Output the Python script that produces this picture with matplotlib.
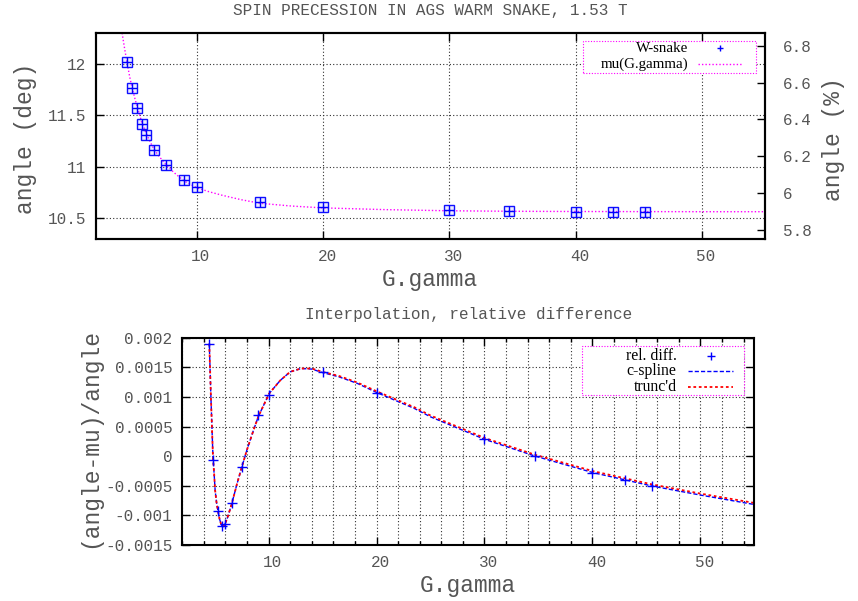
import matplotlib
matplotlib.use("Agg")
import matplotlib.pyplot as plt
import matplotlib.transforms as mtransforms
from matplotlib.ticker import MultipleLocator
from matplotlib.lines import Line2D
from matplotlib.patches import Rectangle

# measured W-snake points
gg = [4.5, 4.88, 5.3, 5.65, 6.0, 6.63, 7.55, 9.0, 10.0, 15.0, 20.0, 30.0, 34.7, 40.0, 43.0, 45.5]
angle_deg = [12.02, 11.768, 11.567, 11.419, 11.313, 11.161, 11.022, 10.870, 10.809,
             10.662, 10.613, 10.577, 10.570, 10.566, 10.565, 10.562]
rel_diff = [0.0019, -0.00007, -0.00092, -0.00118, -0.00114, -0.00079, -0.00018, 0.000687,
            0.00104, 0.001424, 0.00106, 0.000282, 0.0, -0.000282, -0.000405, -0.000507]

# mu(G.gamma) curve
mu_x = [4.09, 4.3, 4.5, 4.7, 4.88, 5.1, 5.3, 5.65, 6.0, 6.3, 6.63, 7.0, 7.55, 8.2, 9.0, 10.0,
        11.0, 12.0, 13.5, 15.0, 17.5, 20.0, 25.0, 30.0, 35.0, 40.0, 45.0, 50.0, 55.0]
mu_y = [12.30, 12.14, 12.00, 11.87, 11.77, 11.665, 11.578, 11.432, 11.326, 11.245, 11.170,
        11.105, 11.024, 10.945, 10.863, 10.798, 10.758, 10.725, 10.682, 10.647, 10.620,
        10.602, 10.585, 10.574, 10.569, 10.567, 10.566, 10.565, 10.565]

# interpolation curves of the relative difference
cs_x = [4.5, 4.66, 4.84, 4.95, 5.04, 5.17, 5.29, 5.45, 5.6, 5.72, 5.85, 5.97, 6.2, 6.59,
        7.05, 7.52, 7.98, 8.6, 9.06, 10.06, 11.08, 12.0, 13.0, 14.0, 14.95, 16.5, 18.2,
        20.07, 23.5, 25.0, 30.04, 34.71, 40.1, 45.6, 50.1, 55.0]
cs_y = [0.0019, 0.00095, 0.0, -0.0003, -0.000574, -0.00078, -0.00091, -0.00106, -0.00115,
        -0.00119, -0.00118, -0.00114, -0.00103, -0.0008, -0.00048, -0.00018, 0.0001,
        0.00044, 0.000676, 0.00106, 0.00128, 0.001424, 0.00148, 0.00147, 0.001414,
        0.00134, 0.00123, 0.00107, 0.000806, 0.000664, 0.000282, 0.0, -0.00028,
        -0.000507, -0.00066, -0.000816]
tr_y = [0.0019, 0.00095, 0.0, -0.0003, -0.000574, -0.00078, -0.00091, -0.00106, -0.00115,
        -0.00119, -0.00118, -0.00114, -0.00103, -0.0008, -0.00048, -0.00018, 0.0001,
        0.00044, 0.000676, 0.00106, 0.00128, 0.001424, 0.00148, 0.00148, 0.001425,
        0.001355, 0.001245, 0.00109, 0.000826, 0.000686, 0.000305, 0.000022, -0.000255,
        -0.00048, -0.000635, -0.00079]

x_ticks = [10, 20, 30, 40, 50]
y1_ticks = [10.5, 11, 11.5, 12]
y2_ticks = [5.8, 6.0, 6.2, 6.4, 6.6, 6.8]
rd_ticks = [-0.0015, -0.001, -0.0005, 0, 0.0005, 0.001, 0.0015, 0.002]
rd_labels = ['-0.0015', '-0.001', '-0.0005', '0', '0.0005', '0.001', '0.0015', '0.002']

MONO = 'Liberation Mono'
SERIF = 'Liberation Serif'
TXT = '#555555'
GRID = dict(color='#303030', linestyle=(0, (1, 2)), linewidth=0.8)

W, H = 858, 601


def px_axes(x0, y0, x1, y1):
    return [x0 / W, 1 - y1 / H, (x1 - x0) / W, (y1 - y0) / H]


def style_axes(ax):
    for s in ax.spines.values():
        s.set_linewidth(1.5)
    ax.tick_params(which='both', direction='in', width=1, colors='black',
                   labelcolor=TXT, labelsize=11.5)
    ax.tick_params(which='major', length=6)
    ax.tick_params(which='minor', length=3)
    for lbl in ax.get_xticklabels() + ax.get_yticklabels():
        lbl.set_fontfamily(MONO)


def shift_xlabels(ax, fig):
    # gnuplot puts the x tick labels a few pixels right of the tick
    off = mtransforms.ScaledTranslation(4 / 100, 0, fig.dpi_scale_trans)
    for lbl in ax.get_xticklabels():
        lbl.set_transform(lbl.get_transform() + off)


def draw_legend(ax, box, rows, text_x, line_x, size):
    x0, y0, x1, y1 = box
    ax.add_patch(Rectangle((x0, y0), x1 - x0, y1 - y0, transform=ax.transAxes,
                           fill=True, facecolor='white', edgecolor='#ff00ff',
                           linestyle=(0, (1, 1.5)), linewidth=0.8, zorder=5))
    for label, y, kw in rows:
        ax.text(text_x, y, label, transform=ax.transAxes, ha='right', va='center',
                fontfamily=SERIF, fontsize=size, color='black', zorder=6)
        if kw.get('marker'):
            ax.add_line(Line2D([(line_x[0] + line_x[1]) / 2], [y], transform=ax.transAxes,
                               zorder=6, **kw))
        else:
            ax.add_line(Line2D(line_x, [y, y], transform=ax.transAxes, zorder=6, **kw))


fig = plt.figure(figsize=(W / 100, H / 100), dpi=100)

# ---- top panel
ax1 = fig.add_axes(px_axes(95.7, 33, 765, 239))
ax1.plot(mu_x, mu_y, color='#ff00ff', linestyle=(0, (1, 1.5)), linewidth=1)
ax1.plot(gg, angle_deg, linestyle='none', marker='s', ms=7, mfc=(0.5, 0.5, 1, 0.15),
         mec='#1010ff', mew=1)
ax1.plot(gg, angle_deg, linestyle='none', marker='+', ms=7, mec='#0000ff', mew=1)
ax1.set_xlim(2, 55)
ax1.set_ylim(10.3, 12.3)
ax1.set_xticks(x_ticks)
ax1.set_yticks(y1_ticks, ['%g' % v for v in y1_ticks])
ax1.grid(True, which='major', **GRID)
style_axes(ax1)
ax1.tick_params(top=True, right=False, pad=7)
shift_xlabels(ax1, fig)

ax1r = ax1.twinx()
ax1r.set_ylim(5.751, 6.869)
ax1r.set_yticks(y2_ticks, ['%g' % v for v in y2_ticks])
style_axes(ax1r)
ax1r.tick_params(pad=13)

ax1.set_xlabel('G.gamma', fontfamily=MONO, fontsize=16.5, color=TXT, va='center')
ax1.xaxis.set_label_coords(0.5, -0.199)
ax1.set_ylabel('angle (deg)', fontfamily=MONO, fontsize=16.5, color=TXT, va='center')
ax1.yaxis.set_label_coords(-0.1056, 0.49)
ax1r.set_ylabel('angle (%)', fontfamily=MONO, fontsize=16.5, color=TXT, va='center',
                rotation=90)
ax1r.yaxis.set_label_coords(1.102, 0.485)

draw_legend(ax1, (0.7276, 0.8044, 0.9861, 0.9597),
            [('W-snake', 0.9248, dict(marker='+', ms=5, mew=1, color='#0000ff', linestyle='none')),
             ('mu(G.gamma)', 0.8471, dict(color='#ff00ff', linestyle=(0, (1, 1.5)), linewidth=1))],
            0.8850, [0.8999, 0.9671], 10.8)

fig.text(430 / W, 1 - 11 / H, 'SPIN PRECESSION IN AGS WARM SNAKE, 1.53 T', ha='center',
         va='center', fontfamily=MONO, fontsize=11.5, color=TXT)

# ---- bottom panel
ax2 = fig.add_axes(px_axes(182.3, 337.7, 754.3, 545))
ax2.plot(cs_x, cs_y, color='#0000ff', linestyle=(0, (3, 1.5)), linewidth=1)
ax2.plot(cs_x, tr_y, color='#ff0000', linestyle=(0, (1.5, 1.5)), linewidth=1.3)
ax2.plot(gg, rel_diff, linestyle='none', marker='+', ms=7, mec='#0000ff', mew=1)
ax2.set_xlim(2, 55)
ax2.set_ylim(-0.0015, 0.002)
ax2.set_xticks(x_ticks)
ax2.xaxis.set_minor_locator(MultipleLocator(2))
ax2.set_yticks(rd_ticks, rd_labels)
ax2.grid(True, which='both', axis='x', **GRID)
ax2.grid(True, which='major', axis='y', **GRID)
style_axes(ax2)
ax2.tick_params(which='both', top=True, right=True)
ax2.tick_params(axis='both', pad=7)
shift_xlabels(ax2, fig)

ax2.set_xlabel('G.gamma', fontfamily=MONO, fontsize=16.5, color=TXT, va='center')
ax2.xaxis.set_label_coords(0.4986, -0.193)
ax2.set_ylabel('(angle-mu)/angle', fontfamily=MONO, fontsize=16.5, color=TXT, va='center')
ax2.yaxis.set_label_coords(-0.1614, 0.5147)

draw_legend(ax2, (0.6993, 0.7236, 0.9825, 0.960),
            [('rel. diff.', 0.9132, dict(marker='+', ms=6, mew=1, color='#0000ff', linestyle='none')),
             ('c-spline', 0.8408, dict(color='#0000ff', linestyle=(0, (3, 1.5)), linewidth=1)),
             ("trunc'd", 0.7636, dict(color='#ff0000', linestyle=(0, (1.5, 1.5)), linewidth=1.3))],
            0.8643, [0.8846, 0.9633], 11.3)

fig.text(469 / W, 1 - 315 / H, 'Interpolation, relative difference', ha='center',
         va='center', fontfamily=MONO, fontsize=11.5, color=TXT)

fig.savefig('out.png', dpi=100)
